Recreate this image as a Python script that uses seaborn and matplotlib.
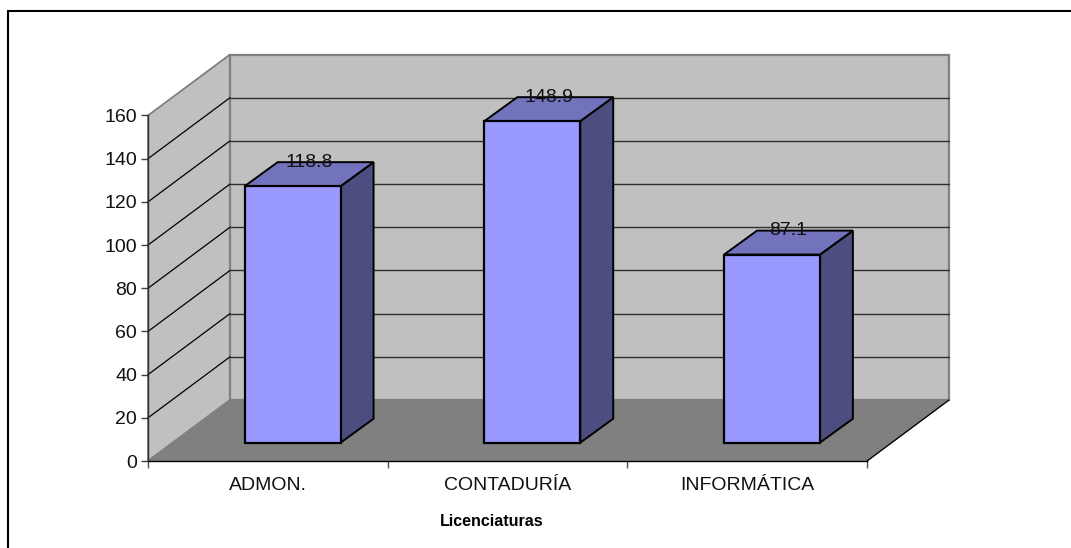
import matplotlib
matplotlib.use("Agg")
import matplotlib.pyplot as plt
from matplotlib.lines import Line2D
from matplotlib.transforms import ScaledTranslation
import pandas as pd
import seaborn as sns

categories = ["ADMON.", "CONTADURÍA", "INFORMÁTICA"]
values = [118.8, 148.9, 87.1]
value_labels = ["118.8", "148.9", "87.1"]
y_ticks = [0, 20, 40, 60, 80, 100, 120, 140, 160]
x_label = "Licenciaturas"

W, H = 1071, 548
L, R, T, B = 148, 867, 115.5, 461
sns.set_theme(style="white")
plt.rcParams["font.family"] = ["Liberation Sans", "DejaVu Sans"]

fig = plt.figure(figsize=(W / 100, H / 100), dpi=100, facecolor="white")
ax = fig.add_axes([L / W, 1 - B / H, (R - L) / W, (B - T) / H])
ax.set_facecolor("none")

df = pd.DataFrame({"cat": categories, "val": values})
sns.barplot(data=df, x="cat", y="val", width=0.40, color="#9999FF", saturation=1,
            edgecolor="black", linewidth=1.6, ax=ax, zorder=4)
ax.set_xlim(-0.5, 2.5)
ax.set_ylim(0, 160)

px_x = 3 / (R - L)           # data units per pixel
px_y = 160 / (B - T)
wall_dx, wall_dy = 82 * px_x, 61 * px_y
depth_dx, depth_dy = 33 * px_x, 24 * px_y
off_x, off_y = 24.8 * px_x, 18.3 * px_y

# walls and floor
ymax = y_ticks[-1]
ax.fill([-0.5, -0.5 + wall_dx, -0.5 + wall_dx, -0.5],
        [0, wall_dy, ymax + wall_dy, ymax],
        fc="#C0C0C0", ec="#808080", lw=1.3, zorder=0, clip_on=False)
ax.fill([-0.5 + wall_dx, 2.5 + wall_dx, 2.5 + wall_dx, -0.5 + wall_dx],
        [wall_dy, wall_dy, ymax + wall_dy, ymax + wall_dy],
        fc="#C0C0C0", ec="#808080", lw=1.6, zorder=0, clip_on=False)
ax.fill([-0.5, 2.5, 2.5 + wall_dx, -0.5 + wall_dx],
        [0, 0, wall_dy, wall_dy],
        fc="#808080", ec="#808080", lw=1.0, zorder=1, clip_on=False)
ax.plot([2.5, 2.5 + wall_dx], [0, wall_dy], color="black", lw=0.9, zorder=1.5, clip_on=False)

# gridlines
for v in y_ticks[1:-1]:
    ax.plot([-0.5, -0.5 + wall_dx], [v, v + wall_dy], color="black", lw=0.9, zorder=2, clip_on=False)
    ax.plot([-0.5 + wall_dx, 2.5 + wall_dx], [v + wall_dy, v + wall_dy],
            color="#303030", lw=1.0, zorder=2, clip_on=False)

# bars: shift the front faces onto the floor, add the side and the top faces
shift = ax.transData + ScaledTranslation(24.8 / 100, 18.3 / 100, fig.dpi_scale_trans)
for patch in [p for p in ax.patches if p.get_zorder() == 4]:
    patch.set_transform(shift)
    patch.set_clip_on(False)
    patch.set_joinstyle("miter")

for i, (v, txt) in enumerate(zip(values, value_labels)):
    x0 = i - 0.2 + off_x
    x1 = i + 0.2 + off_x
    b = off_y
    t = v + off_y
    ax.fill([x1, x1 + depth_dx, x1 + depth_dx, x1], [b, b + depth_dy, t + depth_dy, t],
            fc="#4D4D80", ec="black", lw=1.4, zorder=3, clip_on=False, joinstyle="miter")
    ax.fill([x0, x1, x1 + depth_dx, x0 + depth_dx], [t, t, t + depth_dy, t + depth_dy],
            fc="#7373BD", ec="black", lw=1.4, zorder=3, clip_on=False, joinstyle="miter")
    ax.text(i + off_x + depth_dx / 2, t + depth_dy, txt, ha="center", va="center",
            fontsize=14, color="#111111", zorder=6, clip_on=False)

# axes
sns.despine(ax=ax, top=True, right=True)
ax.spines["left"].set_color("#303030")
ax.spines["left"].set_linewidth(1.0)
ax.spines["bottom"].set_color("black")
ax.spines["bottom"].set_linewidth(1.0)
ax.spines["left"].set_zorder(5)
ax.spines["bottom"].set_zorder(5)
ax.set_yticks(y_ticks)
ax.set_ylabel("")
ax.tick_params(axis="y", left=True, length=5, width=1, color="#404040", pad=3,
               labelsize=14, labelcolor="#111111")
ax.set_xticks([-0.5, 0.5, 1.5, 2.5], minor=True)
ax.tick_params(axis="x", which="minor", bottom=True, length=5, width=1, color="#505050")
ax.tick_params(axis="x", which="major", bottom=False, length=0, pad=11.5,
               labelsize=14, labelcolor="#111111")
ax.set_xlabel(x_label, fontsize=11.5, fontweight="bold", color="black")
ax.xaxis.set_label_coords((491.5 - L) / (R - L), -(521 - B) / (B - T))
ax.xaxis.label.set_verticalalignment("center")

# outer frame, cut by the picture's right and bottom edges
fig.add_artist(Line2D([8 / W, 8 / W, 1], [0, 1 - 11 / H, 1 - 11 / H], color="black", lw=1.5,
                      solid_joinstyle="miter"))

fig.savefig("out.png", dpi=100)
